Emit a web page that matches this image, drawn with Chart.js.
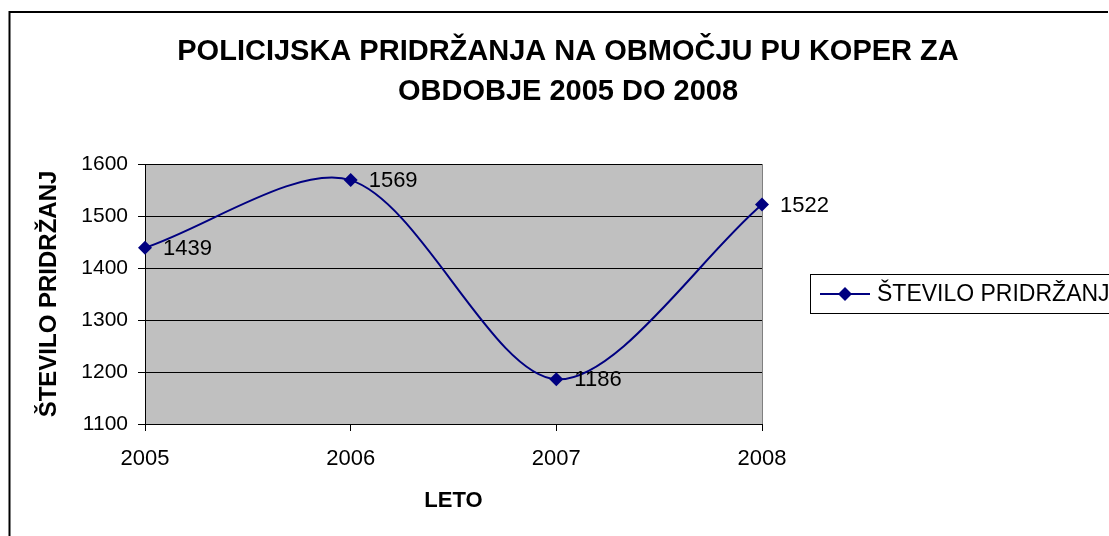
<!DOCTYPE html>
<html>
<head>
<meta charset="utf-8">
<script src="https://cdn.jsdelivr.net/npm/chart.js@4/dist/chart.umd.min.js"></script>
<style>
  html, body { margin: 0; padding: 0; background: #fff; }
  #wrap { width: 1109px; height: 536px; position: relative; }
</style>
</head>
<body>
<div id="wrap"><canvas id="pridrzanjaChart"></canvas></div>
<script>
const years = ["2005", "2006", "2007", "2008"];
const pridrzanja = [1439, 1569, 1186, 1522];
const yTicks = [1100, 1200, 1300, 1400, 1500, 1600];
const titleLines = ["POLICIJSKA PRIDRŽANJA NA OBMOČJU PU KOPER ZA", "OBDOBJE 2005 DO 2008"];
const seriesName = "ŠTEVILO PRIDRŽANJ";

const FONT = "'Liberation Sans', Arial, sans-serif";
const NAVY = "#000080";

const ctx = document.getElementById("pridrzanjaChart").getContext("2d");

// frame, title, plot background, value labels and legend
const excelLook = {
  id: "excelLook",
  beforeDraw(chart) {
    const c = chart.ctx;
    const a = chart.chartArea;
    c.save();
    // outer frame (cut off on the right and bottom)
    c.strokeStyle = "#000";
    c.lineWidth = 2;
    c.beginPath();
    c.moveTo(9.5, 545);
    c.lineTo(9.5, 12);
    c.lineTo(1108, 12);
    c.stroke();
    // plot area
    c.fillStyle = "#C0C0C0";
    c.fillRect(a.left, a.top, a.right - a.left, a.bottom - a.top);
    c.strokeStyle = "#808080";
    c.lineWidth = 1;
    c.strokeRect(a.left + 0.5, a.top + 0.5, a.right - a.left, a.bottom - a.top);
    // title
    c.fillStyle = "#000";
    c.font = "bold 29px " + FONT;
    c.textAlign = "center";
    c.textBaseline = "middle";
    titleLines.forEach((t, i) => c.fillText(t, 568, 52 + i * 40));
    c.restore();
  },
  afterDatasetsDraw(chart) {
    const c = chart.ctx;
    const meta = chart.getDatasetMeta(0);
    const ds = chart.data.datasets[0];
    c.save();
    c.fillStyle = "#000";
    c.font = "22px " + FONT;
    c.textAlign = "left";
    c.textBaseline = "middle";
    meta.data.forEach((pt, i) => {
      c.fillText(String(ds.data[i]), pt.x + 18, pt.y + 1);
    });

    // legend
    const lx = 810, ly = 274, lh = 39;
    c.fillStyle = "#fff";
    c.fillRect(lx, ly, 320, lh);
    c.strokeStyle = "#000";
    c.lineWidth = 1;
    c.strokeRect(lx + 0.5, ly + 0.5, 320, lh);
    const cy = ly + lh / 2 + 0.5;
    c.strokeStyle = NAVY;
    c.lineWidth = 2;
    c.beginPath();
    c.moveTo(820, cy);
    c.lineTo(870, cy);
    c.stroke();
    c.fillStyle = NAVY;
    c.beginPath();
    c.moveTo(845, cy - 7);
    c.lineTo(852, cy);
    c.lineTo(845, cy + 7);
    c.lineTo(838, cy);
    c.closePath();
    c.fill();
    c.fillStyle = "#000";
    c.font = "23px " + FONT;
    c.fillText(ds.label, 877, cy + 1);
    c.restore();
  },
};

const pridrzanjaChart = new Chart(ctx, {
  type: "line",
  data: {
    labels: years,
    datasets: [
      {
        label: seriesName,
        data: pridrzanja,
        borderColor: NAVY,
        backgroundColor: NAVY,
        borderWidth: 2,
        tension: 0.3,
        pointStyle: "rectRot",
        pointRadius: 7,
        pointBorderWidth: 0,
        fill: false,
      },
    ],
  },
  options: {
    responsive: true,
    maintainAspectRatio: false,
    animation: false,
    layout: {
      padding: { left: 0, top: 164, right: 347, bottom: 0 },
    },
    plugins: {
      legend: { display: false },
      title: { display: false },
      tooltip: { enabled: false },
    },
    scales: {
      x: {
        type: "category",
        offset: false,
        afterFit: (s) => { s.height = 112; },
        grid: {
          drawOnChartArea: false,
          drawTicks: true,
          tickLength: 7,
          color: "#000",
        },
        border: { display: true, color: "#000", width: 1 },
        ticks: {
          color: "#000",
          font: { family: FONT, size: 22 },
          padding: 15,
          maxRotation: 0,
        },
        title: {
          display: true,
          text: "LETO",
          color: "#000",
          font: { family: FONT, size: 22, weight: "bold" },
          padding: { bottom: 22 },
        },
      },
      y: {
        min: 1100,
        max: 1600,
        afterFit: (s) => { s.width = 145; },
        afterBuildTicks: (s) => { s.ticks = yTicks.map((v) => ({ value: v })); },
        grid: {
          color: "#000",
          tickLength: 7,
          drawTicks: true,
        },
        border: { display: true, color: "#000", width: 1 },
        ticks: {
          color: "#000",
          font: { family: FONT, size: 21 },
          padding: 10,
          callback: (v) => String(v),
        },
        title: {
          display: true,
          text: seriesName,
          color: "#000",
          font: { family: FONT, size: 24, weight: "bold" },
          padding: { top: 35 },
        },
      },
    },
  },
  plugins: [excelLook],
});
</script>
</body>
</html>
